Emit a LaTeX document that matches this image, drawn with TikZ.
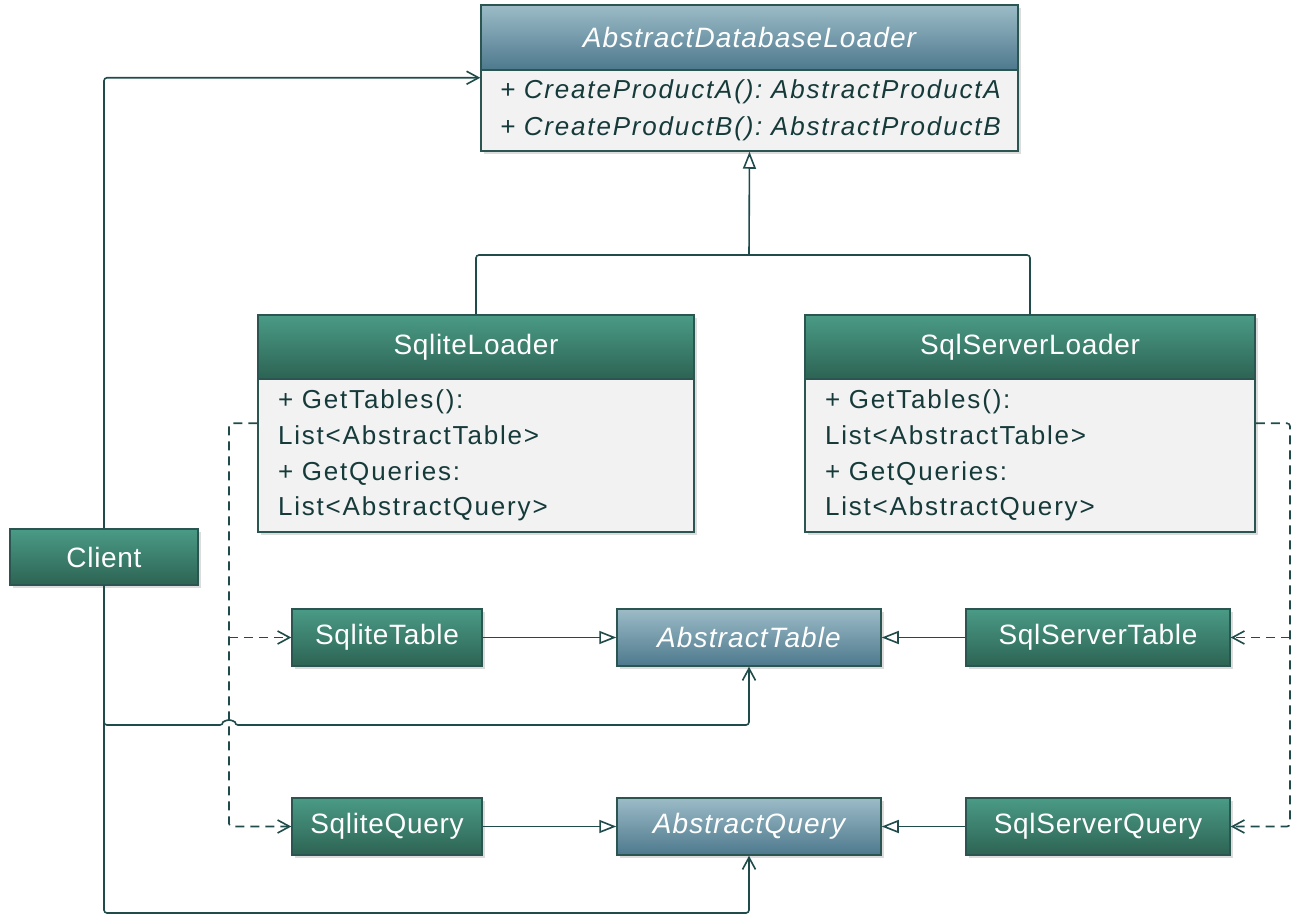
\documentclass[tikz,border=0pt]{standalone}
\usepackage{fontspec}
\setmainfont{Liberation Sans}
\newfontfamily\hfont{Liberation Sans}[LetterSpace=2.5]
\newfontfamily\ihfont{Liberation Sans}[LetterSpace=4]
\newfontfamily\mfont{Liberation Sans}[LetterSpace=7]
\usetikzlibrary{arrows.meta,shadows}
\definecolor{gtop}{HTML}{4A9B86}
\definecolor{gbot}{HTML}{2D6353}
\definecolor{btop}{HTML}{9CBBC7}
\definecolor{bbot}{HTML}{4D798D}
\definecolor{edge}{HTML}{2B5550}
\definecolor{ln}{HTML}{1F4B4B}
\definecolor{memtext}{HTML}{163A3A}
\definecolor{bodyfill}{HTML}{F2F2F2}
\frenchspacing
\begin{document}
\begin{tikzpicture}[x=1pt,y=-1pt,
  box/.style={draw=edge, line width=1.5pt, inner sep=0pt,
    drop shadow={opacity=0.28, shadow xshift=2.5pt, shadow yshift=-3pt}},
  greenhd/.style={box, top color=gtop, bottom color=gbot, text=white,
    font=\hfont\fontsize{28}{30}\selectfont},
  bluehd/.style={box, top color=btop, bottom color=bbot, text=white,
    font=\ihfont\itshape\fontsize{28}{30}\selectfont},
  membody/.style={box, fill=bodyfill, text=memtext, align=left},
  conn/.style={draw=ln, line width=1.6pt, rounded corners=3pt},
  inh/.style={conn, -{Triangle[length=17pt, width=13pt, fill=white]}},
  usearr/.style={conn, -{Straight Barb[length=12pt, width=13pt]}},
  dep/.style={conn, dash pattern=on 9pt off 6pt, -{Straight Barb[length=12pt, width=13pt]}}
]
\useasboundingbox (0,0) rectangle (1293,916);

% AbstractDatabaseLoader
\node[bluehd, minimum width=537pt, minimum height=65pt] (adlh) at (749.5,37.5) {AbstractDatabaseLoader};
\node[membody, minimum width=537pt, minimum height=81pt, inner xsep=19pt, text width=499pt,
  font=\mfont\itshape\fontsize{26}{37}\selectfont] (adlb) at (749.5,110.5)
  {+ CreateProductA(): AbstractProductA\\+ CreateProductB(): AbstractProductB};

% SqliteLoader
\node[greenhd, minimum width=436pt, minimum height=64pt] (sqlh) at (476,347) {SqliteLoader};
\node[membody, minimum width=436pt, minimum height=153pt, inner xsep=20pt, text width=396pt,
  font=\mfont\fontsize{26}{35.7}\selectfont] (sqlb) at (476,455.5)
  {+ GetTables():\\List<AbstractTable>\\+ GetQueries:\\List<AbstractQuery>};

% SqlServerLoader
\node[greenhd, minimum width=450pt, minimum height=64pt] (srvh) at (1030,347) {SqlServerLoader};
\node[membody, minimum width=450pt, minimum height=153pt, inner xsep=20pt, text width=410pt,
  font=\mfont\fontsize{26}{35.7}\selectfont] (srvb) at (1030,455.5)
  {+ GetTables():\\List<AbstractTable>\\+ GetQueries:\\List<AbstractQuery>};

% Client
\node[greenhd, minimum width=188pt, minimum height=56pt] (client) at (104,557) {Client};

% Tables
\node[greenhd, minimum width=190pt, minimum height=57pt] (st) at (387,637.5) {SqliteTable};
\node[bluehd, minimum width=264pt, minimum height=57pt] (at) at (749,637.5) {AbstractTable};
\node[greenhd, minimum width=264pt, minimum height=57pt] (sst) at (1098,637.5) {SqlServerTable};

% Queries
\node[greenhd, minimum width=190pt, minimum height=57pt] (sq) at (387,826.5) {SqliteQuery};
\node[bluehd, minimum width=264pt, minimum height=57pt] (aq) at (749,826.5) {AbstractQuery};
\node[greenhd, minimum width=264pt, minimum height=57pt] (ssq) at (1098,826.5) {SqlServerQuery};

% helper coordinates
\coordinate (inhj) at (749,255);
\coordinate (hop) at (229,725);
\coordinate (bot) at (0,913);
\coordinate (dl) at (229,0);
\coordinate (dr) at (1290,0);

% inheritance of loaders
\draw[conn] (sqlh.north) |- (inhj) -| (srvh.north);
\draw[inh] (inhj) -- (adlb.south);

% product inheritance
\draw[inh] (st) -- (at);
\draw[inh] (sst) -- (at);
\draw[inh] (sq) -- (aq);
\draw[inh] (ssq) -- (aq);

% client associations
\draw[usearr] (client.north) |- ([yshift=-7pt]adlh.south west);
\draw[usearr] (client.south) -- (client.south |- hop) -- ([xshift=-6pt]hop)
  arc[start angle=180, end angle=0, x radius=6pt, y radius=5pt] -| (at.south);
\draw[usearr] (client.south) -- (client.south |- bot) -| (aq.south);

% dependencies
\draw[dep] ([yshift=-45pt]sqlb.north west) -| (dl |- sq.west) -- (sq.west);
\draw[dep] (dl |- st.west) -- (st.west);
\draw[dep] ([yshift=-45pt]srvb.north east) -| (dr |- ssq.east) -- (ssq.east);
\draw[dep] (dr |- sst.east) -- (sst.east);
\end{tikzpicture}
\end{document}
